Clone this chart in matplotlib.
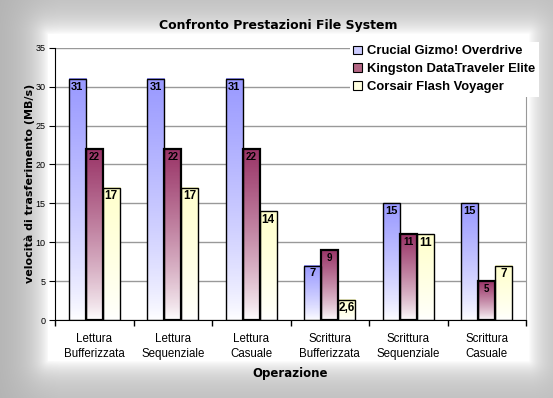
import numpy as np
import matplotlib
matplotlib.use('Agg')
import matplotlib.pyplot as plt
from matplotlib.colors import LinearSegmentedColormap
from matplotlib.patches import Patch

categories = ['Lettura\nBufferizzata', 'Lettura\nSequenziale', 'Lettura\nCasuale',
              'Scrittura\nBufferizzata', 'Scrittura\nSequenziale', 'Scrittura\nCasuale']
series_names = ['Crucial Gizmo! Overdrive', 'Kingston DataTraveler Elite', 'Corsair Flash Voyager']
crucial = [31, 31, 31, 7, 15, 15]
kingston = [22, 22, 22, 9, 11, 5]
corsair = [17, 17, 14, 2.6, 11, 7]
y_ticks = [0, 5, 10, 15, 20, 25, 30, 35]

series = [crucial, kingston, corsair]
top_colors = ['#9999ff', '#993366', '#ffffcc']
legend_colors = ['#ccccff', '#b36684', '#ffffe0']
label_sizes = [8, 7, 8.5]
edge_widths = [1.0, 1.6, 1.0]

W, H = 553, 398
fig = plt.figure(figsize=(W / 100, H / 100), dpi=100)

# background frame with soft shadow
bg = fig.add_axes([0, 0, 1, 1])
yy, xx = np.mgrid[0:H, 0:W]
x0, x1, y0, y1 = 48, 528, 34, 360
dx = np.maximum(np.maximum(x0 - xx, xx - x1), 0)
dy = np.maximum(np.maximum(y0 - yy, yy - y1), 0)
d = np.hypot(dx, dy)
val = 255 - 66 * (1 - np.exp(-d / 16.0))
val -= 10 * np.clip((60 - xx) / 60.0, 0, 1) * (d > 0)
img = np.clip(val, 0, 255) / 255.0
bg.imshow(np.dstack([img, img, img]), extent=[0, W, H, 0], aspect='auto', interpolation='bilinear')
bg.set_xlim(0, W)
bg.set_ylim(H, 0)
bg.axis('off')

ax = fig.add_axes([55 / W, 1 - 320 / H, (526 - 55) / W, (320 - 47.7) / H])
ax.set_facecolor('none')
x = np.arange(len(categories))
w = 0.217
offsets = [-w, 0, w]

for vals, off, col, ls, ew in zip(series, offsets, top_colors, label_sizes, edge_widths):
    bars = ax.bar(x + off, vals, w, facecolor='none', edgecolor='black', linewidth=ew, zorder=3)
    cmap = LinearSegmentedColormap.from_list('g', ['white', col])
    grad = np.linspace(0, 1, 256).reshape(-1, 1) ** 0.8
    for b, v in zip(bars, vals):
        bx, bw, bh = b.get_x(), b.get_width(), b.get_height()
        ax.imshow(grad, extent=[bx, bx + bw, 0, bh], origin='lower', aspect='auto',
                  cmap=cmap, vmin=0, vmax=1, zorder=2, interpolation='bilinear')
        lab = f'{v:g}'.replace('.', ',')
        ax.text(bx + bw / 2, v - 0.35, lab, ha='center', va='top', fontsize=ls,
                fontweight='bold', family='Liberation Sans', zorder=4)

ax.set_xlim(-0.5, len(categories) - 0.5)
ax.set_ylim(0, 35)
ax.set_yticks(y_ticks)
ax.set_xticks(x)
ax.set_xticklabels(categories, fontsize=8.3, family='Liberation Sans', linespacing=1.4)
ax.set_xticks(np.arange(-0.5, len(categories)), minor=True)
ax.tick_params(axis='x', which='major', length=0, pad=9)
ax.tick_params(axis='x', which='minor', length=4, direction='out', width=1)
ax.tick_params(axis='y', length=4, direction='out', labelsize=6.5, pad=3)
for t in ax.get_yticklabels():
    t.set_family('Liberation Sans')
ax.yaxis.grid(True, color='#999999', lw=1)
ax.set_axisbelow(True)
ax.spines['top'].set_visible(False)
ax.spines['right'].set_color('#999999')
for s in ['left', 'bottom']:
    ax.spines[s].set_color('black')

ax.set_ylabel('velocità di trasferimento (MB/s)', fontsize=8, fontweight='bold',
              family='DejaVu Sans', labelpad=0)
ax.set_xlabel('Operazione', fontsize=8.5, fontweight='bold', family='DejaVu Sans', labelpad=5)
fig.text(278 / W, 1 - 25 / H, 'Confronto Prestazioni File System', ha='center', va='center',
         fontsize=9, fontweight='bold', family='DejaVu Sans')

handles = [Patch(facecolor=c, edgecolor='black', linewidth=0.8) for c in legend_colors]
leg = fig.legend(handles, series_names, loc='upper left', bbox_to_anchor=(343 / W, 1 - 35 / H),
                 frameon=True, fancybox=False, prop={'family': 'Liberation Sans', 'weight': 'bold', 'size': 9.4},
                 handlelength=0.65, handleheight=0.65, handletextpad=0.4, labelspacing=0.45,
                 borderpad=0.3)
leg.get_frame().set_facecolor('white')
leg.get_frame().set_edgecolor('none')
leg.get_frame().set_alpha(1)
leg.set_zorder(10)

fig.savefig('out.png', dpi=100)
